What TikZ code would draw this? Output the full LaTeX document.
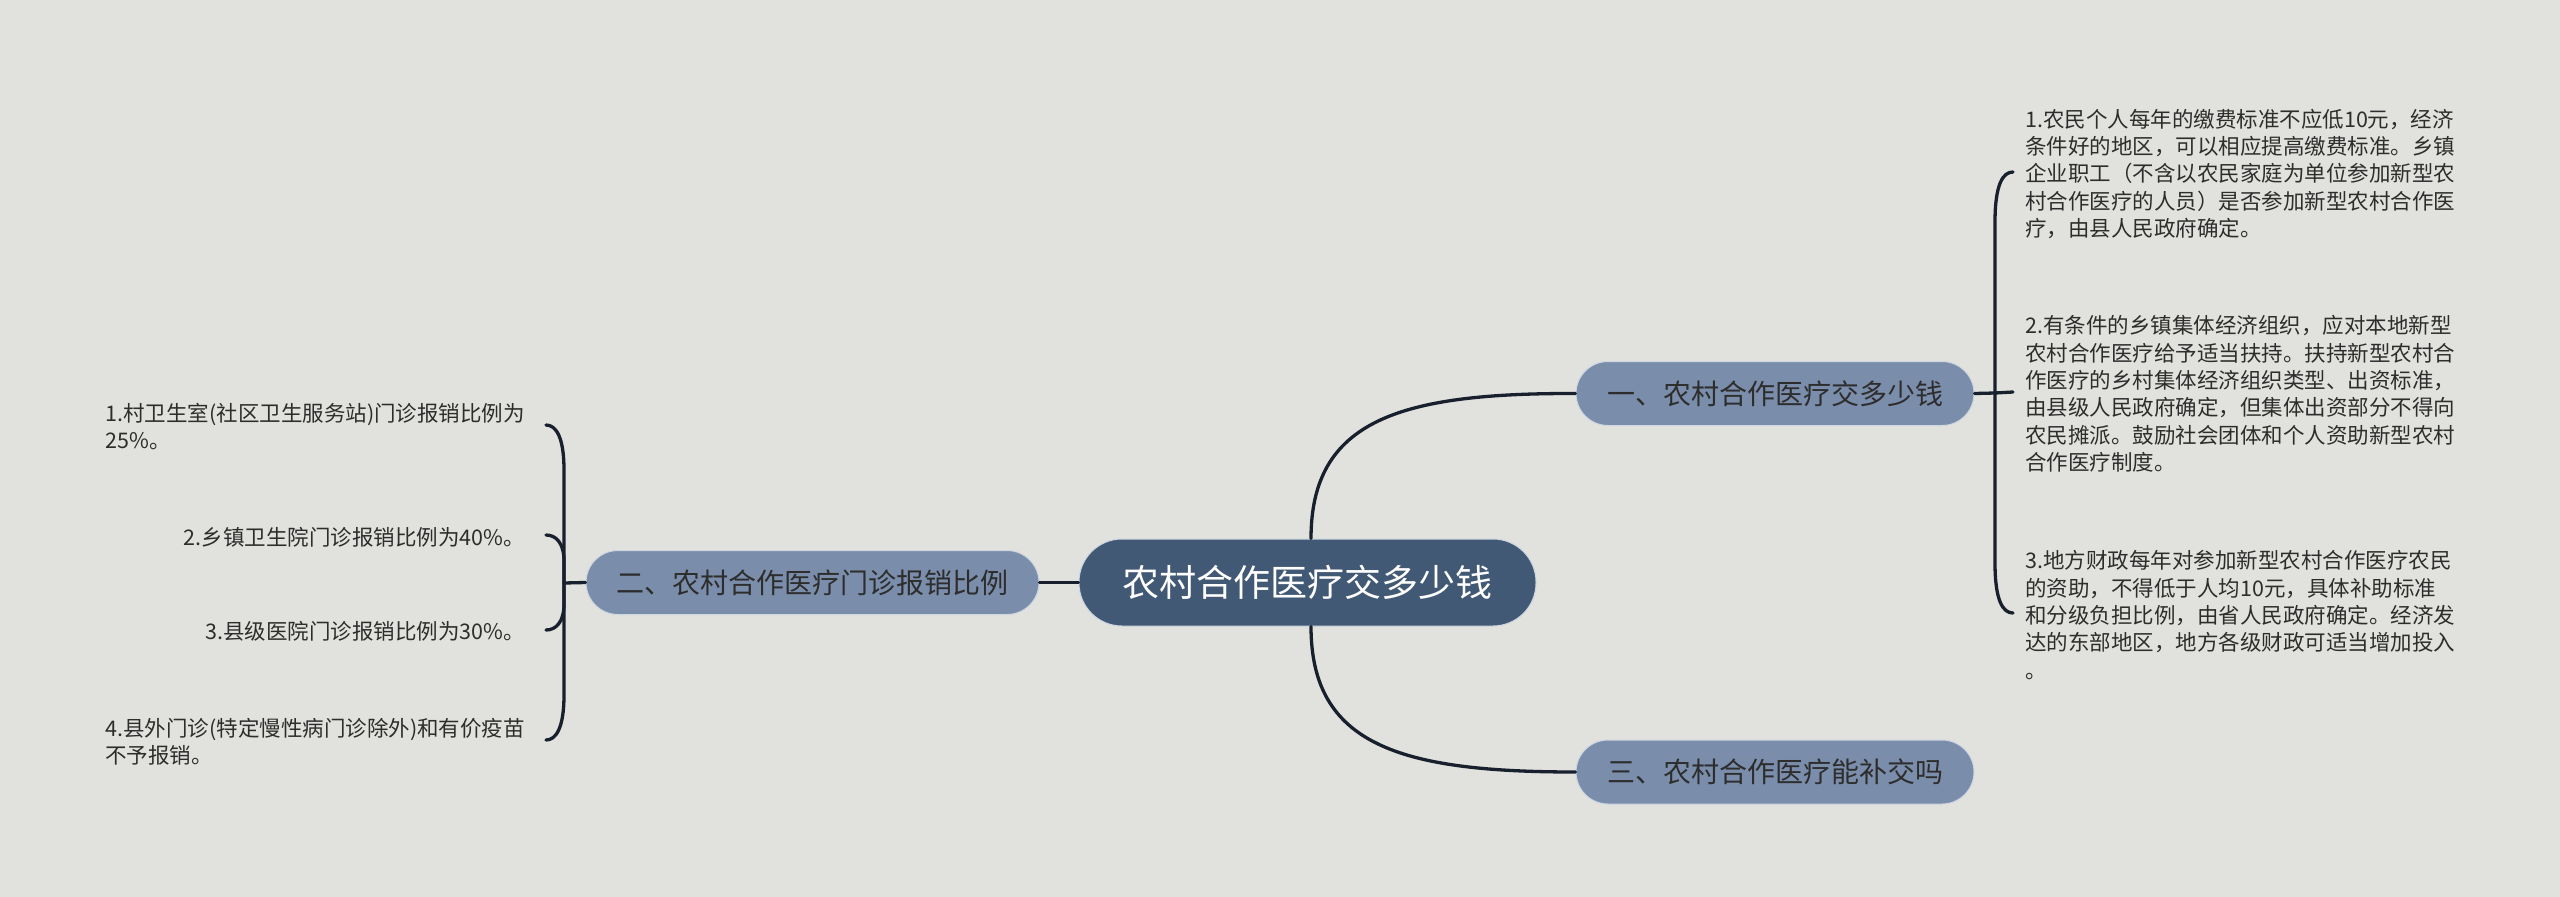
\documentclass[tikz,border=0pt]{standalone}
\usepackage{fontspec}
\setmainfont{Noto Sans CJK SC}
\usetikzlibrary{calc}
\definecolor{bgc}{RGB}{225,226,221}
\definecolor{rootc}{RGB}{66,89,118}
\definecolor{subc}{RGB}{122,141,170}
\definecolor{linec}{RGB}{24,32,46}
\definecolor{txtc}{RGB}{45,45,45}
\definecolor{rimc}{RGB}{205,214,225}
\tikzset{
  rootbox/.style={rectangle, rounded corners=43pt, fill=rootc, draw=rimc, line width=1pt,
    minimum width=457pt, minimum height=87pt, inner sep=0pt, text=white,
    font=\fontsize{37}{42}\selectfont},
  subbox/.style={rectangle, rounded corners=32pt, fill=subc, draw=rimc, line width=1pt,
    minimum height=64pt, inner sep=0pt, text=txtc,
    font=\fontsize{28}{32}\selectfont},
  leaf/.style={inner sep=0pt, align=left, text=txtc,
    font=\fontsize{21.5}{27.4}\selectfont},
  conn/.style={draw=linec, line width=3.3pt, line cap=round}
}
\begin{document}
\begin{tikzpicture}[x=1pt,y=-1pt]
\useasboundingbox[fill=bgc] (0,0) rectangle (2560,897);

% nodes
\node[rootbox] (root) at (1307.5,582.5) {农村合作医疗交多少钱};
\node[subbox, minimum width=398pt] (s1) at (1775,393.5) {一、农村合作医疗交多少钱};
\node[subbox, minimum width=453pt] (s2) at (812.5,582.5) {二、农村合作医疗门诊报销比例};
\node[subbox, minimum width=398pt] (s3) at (1775,772) {三、农村合作医疗能补交吗};

% right leaves
\node[leaf, anchor=west] (r1) at (2025,174) {1.农民个人每年的缴费标准不应低10元，经济\\条件好的地区，可以相应提高缴费标准。乡镇\\企业职工（不含以农民家庭为单位参加新型农\\村合作医疗的人员）是否参加新型农村合作医\\疗，由县人民政府确定。};
\node[leaf, anchor=west] (r2) at (2025,394) {2.有条件的乡镇集体经济组织，应对本地新型\\农村合作医疗给予适当扶持。扶持新型农村合\\作医疗的乡村集体经济组织类型、出资标准，\\由县级人民政府确定，但集体出资部分不得向\\农民摊派。鼓励社会团体和个人资助新型农村\\合作医疗制度。};
\node[leaf, anchor=west] (r3) at (2025,615) {3.地方财政每年对参加新型农村合作医疗农民\\的资助，不得低于人均10元，具体补助标准\\和分级负担比例，由省人民政府确定。经济发\\达的东部地区，地方各级财政可适当增加投入\\。};

% left leaves
\node[leaf, anchor=east] (l1) at (525,426.5) {1.村卫生室(社区卫生服务站)门诊报销比例为\\25\%。};
\node[leaf, anchor=east] (l2) at (525,537) {2.乡镇卫生院门诊报销比例为40\%。};
\node[leaf, anchor=east] (l3) at (525,631) {3.县级医院门诊报销比例为30\%。};
\node[leaf, anchor=east] (l4) at (525,741.5) {4.县外门诊(特定慢性病门诊除外)和有价疫苗\\不予报销。};

% junctions and bracket ends
\coordinate (jR) at (1995,393);
\coordinate (jL) at (564,583);
\coordinate (er1) at ($(r1.west)+(-12,-2)$);
\coordinate (er2) at ($(r2.west)+(-12,-2)$);
\coordinate (er3) at ($(r3.west)+(-12,-2)$);
\coordinate (el1) at ($(l1.east)+(21,-1.5)$);
\coordinate (el2) at ($(l2.east)+(21,-2)$);
\coordinate (el3) at ($(l3.east)+(21,-1)$);
\coordinate (el4) at ($(l4.east)+(21,-1.5)$);

% main curves
\draw[conn] (root.north -| 1311,0) .. controls (1311,420) and (1400,393) .. (s1.west);
\draw[conn] (root.south -| 1311,0) .. controls (1311,745) and (1400,772) .. (s3.west);
\draw[conn] (root.west) -- (s2.east);

% right bracket
\draw[conn] (s1.east) -- (jR);
\draw[conn] (jR) -- (er2);
\draw[conn] (jR) -- ($(jR|-er1)+(0,50)$) .. controls ($(jR|-er1)+(0,12)$) and ($(er1)+(-10,0)$) .. (er1);
\draw[conn] (jR) -- ($(jR|-er3)+(0,-50)$) .. controls ($(jR|-er3)+(0,-12)$) and ($(er3)+(-10,0)$) .. (er3);

% left bracket
\draw[conn] (s2.west) -- (jL);
\draw[conn] (jL) -- ($(jL|-el1)+(0,45)$) .. controls ($(jL|-el1)+(0,12)$) and ($(el1)+(10,0)$) .. (el1);
\draw[conn] (jL) -- ($(jL|-el2)+(0,26)$) .. controls ($(jL|-el2)+(0,8)$) and ($(el2)+(10,0)$) .. (el2);
\draw[conn] (jL) -- ($(jL|-el3)+(0,-26)$) .. controls ($(jL|-el3)+(0,-8)$) and ($(el3)+(10,0)$) .. (el3);
\draw[conn] (jL) -- ($(jL|-el4)+(0,-45)$) .. controls ($(jL|-el4)+(0,-12)$) and ($(el4)+(10,0)$) .. (el4);
\end{tikzpicture}
\end{document}
